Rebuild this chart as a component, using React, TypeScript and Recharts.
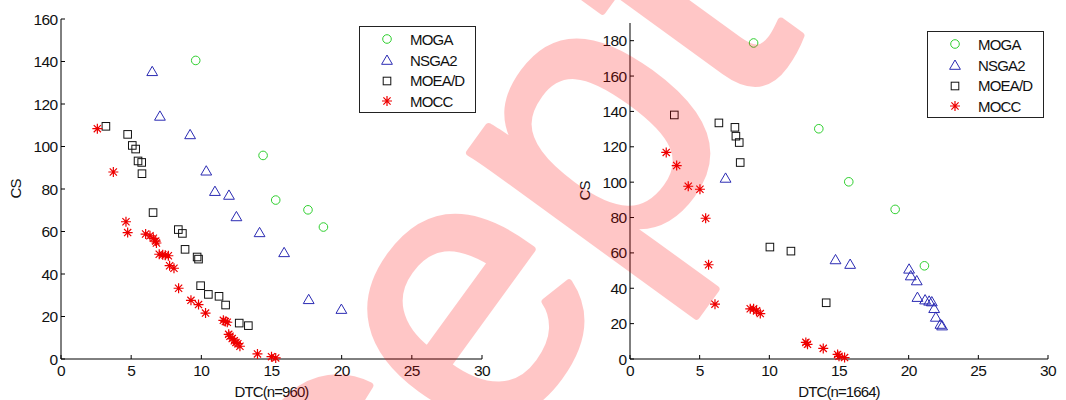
import React from "react";
import { Legend, Scatter, ScatterChart, XAxis, YAxis } from "recharts";

// Left panel, n = 960
const leftMogaX = [9.6, 14.4, 15.3, 17.6, 18.7];
const leftMogaY = [140.5, 95.8, 74.8, 70.2, 62.1];
const leftNsgaX = [6.5, 7.05, 9.2, 10.35, 10.97, 11.97, 12.5, 14.15, 15.9, 17.65, 19.98];
const leftNsgaY = [135.4, 114.4, 105.7, 88.6, 79, 77.2, 67.1, 59.6, 50.2, 28.1, 23.5];
const leftMoeadX = [3.2, 4.75, 5.08, 5.32, 5.49, 5.75, 5.77, 6.56, 8.36, 8.65, 8.84, 9.7, 9.8, 9.95, 10.5, 11.26, 11.73, 12.7, 13.35];
const leftMoeadY = [109.5, 105.7, 100.5, 98.8, 93.2, 92.5, 87.2, 68.9, 60.9, 59.1, 51.6, 48, 47, 34.5, 30.4, 29.5, 25.4, 16.9, 15.7];
const leftMoccX = [2.59, 3.73, 4.63, 4.75, 6.03, 6.34, 6.58, 6.75, 6.8, 7.0, 7.25, 7.43, 7.65, 7.74, 8.05, 8.38, 9.26, 9.8, 10.3, 11.57, 11.71, 11.85, 11.95, 12.04, 12.2, 12.35, 12.47, 12.6, 12.75, 14.0, 15.0, 15.3];
const leftMoccY = [108.4, 88, 64.6, 59.5, 58.8, 58, 56.8, 55.5, 54.6, 49.3, 49.1, 48.8, 48.6, 43.9, 42.7, 33.3, 27.6, 25.6, 21.6, 18.2, 17.6, 17.3, 11.6, 10.7, 9.6, 8.6, 7.8, 7.2, 6.0, 2.4, 1.1, 0.5];

// Right panel, n = 1664
const rightMogaX = [8.87, 13.55, 15.7, 19.03, 21.13];
const rightMogaY = [178.7, 130.2, 100.2, 84.6, 52.7];
const rightNsgaX = [6.86, 14.75, 15.8, 20.03, 20.15, 20.58, 20.63, 21.18, 21.47, 21.66, 21.83, 21.95, 22.28, 22.4];
const rightNsgaY = [102.4, 56.3, 53.7, 51, 47.2, 44.4, 35, 33.6, 32.9, 32.5, 28.7, 23.8, 19.8, 18.9];
const rightMoeadX = [3.18, 6.38, 7.53, 7.6, 7.84, 7.91, 10.04, 11.55, 14.08];
const rightMoeadY = [138, 133.5, 131, 126, 122.4, 111.1, 63.3, 61, 31.8];
const rightMoccX = [2.6, 3.35, 4.18, 5.02, 5.43, 5.64, 6.1, 8.63, 8.87, 9.08, 9.35, 12.62, 12.74, 13.87, 14.9, 15.0, 15.4];
const rightMoccY = [116.8, 109.4, 97.7, 96, 79.6, 53.3, 31, 28.4, 28.4, 27.2, 25.7, 9.4, 8.3, 6.0, 2.6, 1.5, 0.8];

const xTicks = [0, 5, 10, 15, 20, 25, 30];
const leftYTicks = [0, 20, 40, 60, 80, 100, 120, 140, 160];
const rightYTicks = [0, 20, 40, 60, 80, 100, 120, 140, 160, 180];
const seriesNames = ["MOGA", "NSGA2", "MOEA/D", "MOCC"];

const GREEN = "#2fd02f";
const BLUE = "#2b2bb3";
const BLACK = "#111111";
const RED = "#ee0000";
const FONT = "'Liberation Sans', Arial, Helvetica, sans-serif";

const zip = (xs: number[], ys: number[]) => xs.map((x, i) => ({ x, y: ys[i] }));

const circleMark = (cx: number, cy: number) => (
  <circle cx={cx} cy={cy} r={4.3} fill="none" stroke={GREEN} strokeWidth={1} />
);
const triangleMark = (cx: number, cy: number) => (
  <path
    d={`M${cx},${cy - 5} L${cx + 5.4},${cy + 4.3} L${cx - 5.4},${cy + 4.3} Z`}
    fill="none"
    stroke={BLUE}
    strokeWidth={1}
  />
);
const squareMark = (cx: number, cy: number) => (
  <rect x={cx - 3.8} y={cy - 3.8} width={7.6} height={7.6} fill="none" stroke={BLACK} strokeWidth={1} />
);
const starMark = (cx: number, cy: number) => (
  <path
    d={`M${cx - 5},${cy} L${cx + 5},${cy} M${cx},${cy - 5} L${cx},${cy + 5} M${cx - 3.6},${cy - 3.6} L${cx + 3.6},${cy + 3.6} M${cx - 3.6},${cy + 3.6} L${cx + 3.6},${cy - 3.6}`}
    stroke={RED}
    strokeWidth={1.2}
  />
);
const marks = [circleMark, triangleMark, squareMark, starMark];

const shapeOf = (fn: (cx: number, cy: number) => React.ReactElement) => (p: any) => fn(p.cx, p.cy);

function LegendBox() {
  return (
    <div
      style={{
        width: 117,
        height: 87,
        boxSizing: "border-box",
        border: "1px solid #222",
        background: "#fff",
        paddingTop: 2,
        fontFamily: FONT,
        fontSize: 15,
        letterSpacing: -0.8,
        color: "#111",
      }}
    >
      {seriesNames.map((name, i) => (
        <div key={name} style={{ display: "flex", alignItems: "center", height: 20.7 }}>
          <svg width={50} height={14} style={{ flex: "none" }}>
            {marks[i](27, 7)}
          </svg>
          <span>{name}</span>
        </div>
      ))}
    </div>
  );
}

function Panel({
  left,
  top,
  plotLeft,
  plotRight,
  yMax,
  yTicks,
  xLabel,
  legendPos,
  series,
}: {
  left: number;
  top: number;
  plotLeft: number;
  plotRight: number;
  yMax: number;
  yTicks: number[];
  xLabel: string;
  legendPos: { left: number; top: number };
  series: { x: number; y: number }[][];
}) {
  const tickStyle = { fontSize: 15.5, fill: "#111", fontFamily: FONT, letterSpacing: -0.6 };
  return (
    <div style={{ position: "absolute", left, top: 0 }}>
      <ScatterChart width={533} height={400} margin={{ top, right: 533 - plotRight, bottom: 0, left: 0 }}>
        <XAxis
          type="number"
          dataKey="x"
          domain={[0, 30]}
          ticks={xTicks}
          height={41}
          tickSize={-4}
          tickMargin={10}
          tick={tickStyle}
          axisLine={{ stroke: "#000" }}
          tickLine={{ stroke: "#000" }}
          label={{ value: xLabel, position: "insideBottom", offset: 3.5, fontSize: 15, fill: "#111", fontFamily: FONT, letterSpacing: -0.9 }}
        />
        <XAxis
          xAxisId="top"
          orientation="top"
          type="number"
          domain={[0, 30]}
          ticks={xTicks}
          height={0}
          tickSize={-4}
          tick={() => <g />}
          axisLine={{ stroke: "#000" }}
          tickLine={{ stroke: "#000" }}
        />
        <YAxis
          type="number"
          dataKey="y"
          domain={[0, yMax]}
          ticks={yTicks}
          width={plotLeft}
          tickSize={-4}
          tickMargin={7.5}
          tick={tickStyle}
          axisLine={{ stroke: "#000" }}
          tickLine={{ stroke: "#000" }}
          label={{
            content: (p: any) => {
              const vb = p.viewBox;
              const cx = vb.x + plotLeft - 46;
              const cy = vb.y + vb.height / 2;
              return (
                <text
                  x={cx}
                  y={cy}
                  transform={`rotate(-90 ${cx} ${cy})`}
                  textAnchor="middle"
                  dominantBaseline="central"
                  fontSize={15}
                  fill="#111"
                  fontFamily={FONT}
                  letterSpacing={-1}
                >
                  CS
                </text>
              );
            },
          }}
        />
        <YAxis
          yAxisId="right"
          orientation="right"
          type="number"
          domain={[0, yMax]}
          ticks={yTicks}
          width={0}
          tickSize={-4}
          tick={() => <g />}
          axisLine={{ stroke: "#000" }}
          tickLine={{ stroke: "#000" }}
        />
        <Legend
          layout="vertical"
          align="center"
          verticalAlign="middle"
          content={() => <LegendBox />}
          wrapperStyle={{ left: legendPos.left, top: legendPos.top, width: 117, height: 87 }}
        />
        {series.map((data, i) => (
          <Scatter
            key={seriesNames[i]}
            name={seriesNames[i]}
            data={data}
            shape={shapeOf(marks[i])}
            isAnimationActive={false}
          />
        ))}
      </ScatterChart>
    </div>
  );
}

export default function App() {
  return (
    <div style={{ position: "absolute", left: 0, top: 0, width: 1066, height: 400, background: "#fff", overflow: "hidden" }}>
      <Panel
        left={0}
        top={19}
        plotLeft={61}
        plotRight={482}
        yMax={160}
        yTicks={leftYTicks}
        xLabel="DTC(n=960)"
        legendPos={{ left: 359, top: 26 }}
        series={[
          zip(leftMogaX, leftMogaY),
          zip(leftNsgaX, leftNsgaY),
          zip(leftMoeadX, leftMoeadY),
          zip(leftMoccX, leftMoccY),
        ]}
      />
      <Panel
        left={533}
        top={23}
        plotLeft={97}
        plotRight={515}
        yMax={190}
        yTicks={rightYTicks}
        xLabel="DTC(n=1664)"
        legendPos={{ left: 394, top: 31 }}
        series={[
          zip(rightMogaX, rightMogaY),
          zip(rightNsgaX, rightNsgaY),
          zip(rightMoeadX, rightMoeadY),
          zip(rightMoccX, rightMoccY),
        ]}
      />
      {/* watermark stamped across the figure */}
      <svg width={1066} height={400} style={{ position: "absolute", left: 0, top: 0, pointerEvents: "none" }}>
        <g opacity={0.22}>
          <text
            x={0}
            y={0}
            transform="translate(121 974) rotate(-54)"
            fontSize={380}
            fontFamily={FONT}
            fill="#ff0000"
            stroke="#ff0000"
            strokeWidth={7}
            strokeLinejoin="round"
          >
            Accepted
          </text>
        </g>
      </svg>
    </div>
  );
}
